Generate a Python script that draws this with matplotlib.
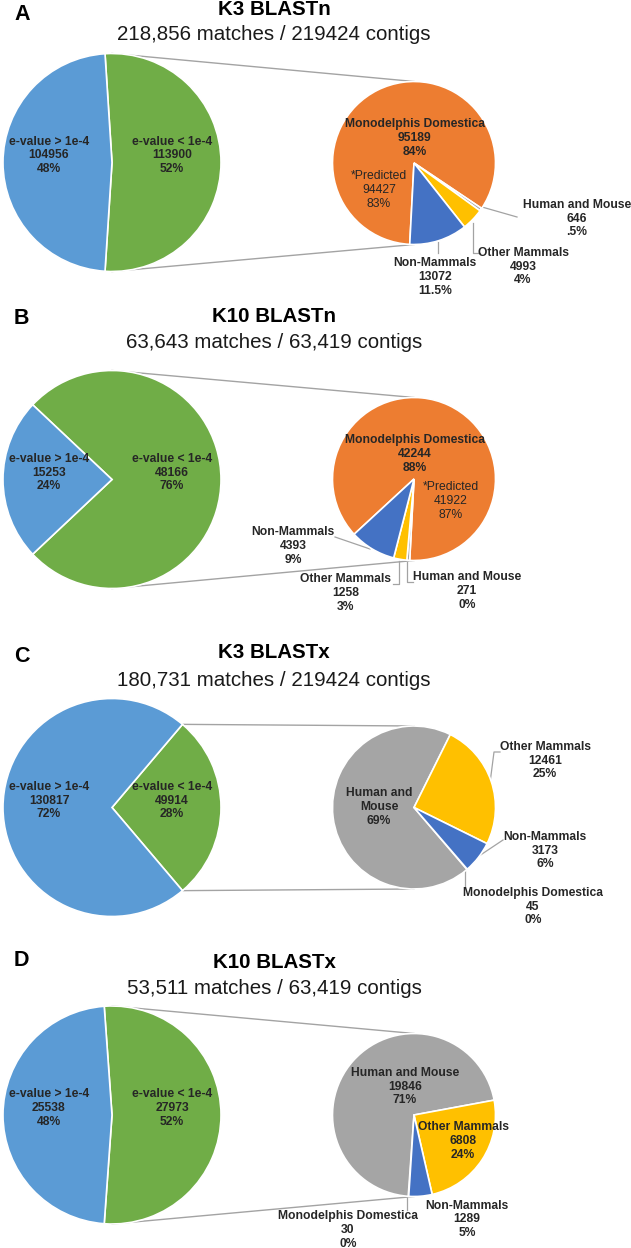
import numpy as np
import matplotlib
matplotlib.use('Agg')
import matplotlib.pyplot as plt

plt.rcParams['font.family'] = ['Liberation Sans', 'DejaVu Sans']

W, H = 631, 1248

panel_letters = ['A', 'B', 'C', 'D']
titles = ['K3 BLASTn', 'K10 BLASTn', 'K3 BLASTx', 'K10 BLASTx']
subtitles = ['218,856 matches / 219424 contigs',
             '63,643 matches / 63,419 contigs',
             '180,731 matches / 219424 contigs',
             '53,511 matches / 63,419 contigs']

# primary pies
above_counts = [104956, 15253, 130817, 25538]   # e-value > 1e-4
below_counts = [113900, 48166, 49914, 27973]    # e-value < 1e-4
above_pct = ['48%', '24%', '72%', '48%']
below_pct = ['52%', '76%', '28%', '52%']

# secondary pies (break-down of e-value < 1e-4)
groups = ['Monodelphis Domestica', 'Human and Mouse', 'Other Mammals', 'Non-Mammals']
mono_counts = [95189, 42244, 45, 30]
human_counts = [646, 271, 34235, 19846]
other_counts = [4993, 1258, 12461, 6808]
nonmam_counts = [13072, 4393, 3173, 1289]
mono_pct = ['84%', '88%', '0%', '0%']
human_pct = ['.5%', '0%', '69%', '71%']
other_pct = ['4%', '3%', '25%', '24%']
nonmam_pct = ['11.5%', '9%', '6%', '5%']
predicted_counts = [94427, 41922]
predicted_pct = ['83%', '87%']

big_colors = ['#70AD47', '#5B9BD5']
sub_colors = ['#ED7D31', '#A5A5A5', '#FFC000', '#4472C4']
txt = '#262626'
line_c = '#A3A3A3'

# layout (pixel coords, y from top)
letter_y = [15, 319, 656, 961]
title_y = [9.5, 316, 653, 962]
sub_y = [35, 343, 681, 989]
big_cy = [162.5, 479.5, 807.5, 1115]
sub_cy = [163, 479, 807.5, 1115]
sub_start = [267, 222.7, -49.2, -93.7]
big_cx, big_r = 112, 109
sub_cx, sub_r = 414, 81.5


def Y(y):
    return H - y


fig = plt.figure(figsize=(W / 100, H / 100), dpi=100)
ax = fig.add_axes([0, 0, 1, 1])

lab = dict(fontsize=8.7, fontweight='bold', color=txt, ha='center', va='center', linespacing=1.2)

for i in range(4):
    ax.text(14, Y(letter_y[i]), panel_letters[i], fontsize=15.5, fontweight='bold', va='center', ha='left')
    ax.text(274, Y(title_y[i]), titles[i], fontsize=14.8, fontweight='bold', ha='center', va='center')
    ax.text(274, Y(sub_y[i]), subtitles[i], fontsize=14.8, ha='center', va='center', color='#1a1a1a')

    # primary pie, "< 1e-4" slice centred on the right
    frac = below_counts[i] / (below_counts[i] + above_counts[i])
    ax.pie([below_counts[i], above_counts[i]], colors=big_colors, startangle=-frac * 180,
           center=(big_cx, Y(big_cy[i])), radius=big_r,
           wedgeprops=dict(edgecolor='white', linewidth=1.2))

    vals = [mono_counts[i], human_counts[i], other_counts[i], nonmam_counts[i]]
    ax.pie(vals, colors=sub_colors, startangle=sub_start[i], counterclock=False,
           center=(sub_cx, Y(sub_cy[i])), radius=sub_r,
           wedgeprops=dict(edgecolor='white', linewidth=1.2))

    # connector lines
    ang = np.radians(min(frac * 180, 90))
    for s in (1, -1):
        x0 = big_cx + big_r * np.cos(ang)
        y0 = Y(big_cy[i]) + s * big_r * np.sin(ang)
        ax.plot([x0, sub_cx], [y0, Y(sub_cy[i]) + s * sub_r], color=line_c, lw=1, zorder=0)

    ax.text(49, Y(big_cy[i]) + 7, 'e-value > 1e-4\n%d\n%s' % (above_counts[i], above_pct[i]), **lab)
    ax.text(big_cx + 60, Y(big_cy[i]) + 7, 'e-value < 1e-4\n%d\n%s' % (below_counts[i], below_pct[i]), **lab)


def sub_label(x, y, s, **kw):
    d = dict(lab)
    d.update(kw)
    ax.text(x, Y(y), s, **d)


def leader(xs, ys):
    ax.plot(xs, [Y(v) for v in ys], color=line_c, lw=0.9, zorder=0.5)


# A
sub_label(415, 138, '%s\n%d\n%s' % (groups[0], mono_counts[0], mono_pct[0]))
sub_label(379, 190, '*Predicted\n%d\n%s' % (predicted_counts[0], predicted_pct[0]), fontweight='normal')
sub_label(577, 218.5, '%s\n%d\n%s' % (groups[1], human_counts[0], human_pct[0]))
sub_label(523, 266.5, '%s\n%d\n%s' % (groups[2], other_counts[0], other_pct[0]))
sub_label(435, 277, '%s\n%d\n%s' % (groups[3], nonmam_counts[0], nonmam_pct[0]))
leader([482, 517], [207, 217])
leader([473, 473, 480], [223, 253, 253])
leader([438, 438], [242, 253])

# B
sub_label(415, 454, '%s\n%d\n%s' % (groups[0], mono_counts[1], mono_pct[1]))
sub_label(451, 501, '*Predicted\n%d\n%s' % (predicted_counts[1], predicted_pct[1]), fontweight='normal')
sub_label(293, 546, '%s\n%d\n%s' % (groups[3], nonmam_counts[1], nonmam_pct[1]))
sub_label(346, 593, '%s\n%d\n%s' % (groups[2], other_counts[1], other_pct[1]))
sub_label(467, 591, '%s\n%d\n%s' % (groups[1], human_counts[1], human_pct[1]))
leader([335, 370], [537, 549])
leader([393, 399, 399], [584, 584, 561])
leader([407, 407, 413], [562, 582, 582])

# C
sub_label(379, 807, 'Human and\nMouse\n%s' % human_pct[2])
sub_label(545, 760.5, '%s\n%d\n%s' % (groups[2], other_counts[2], other_pct[2]))
sub_label(545, 850.5, '%s\n%d\n%s' % (groups[3], nonmam_counts[2], nonmam_pct[2]))
sub_label(533, 906.5, '%s\n%d\n%s' % (groups[0], mono_counts[2], mono_pct[2]))
leader([490, 494, 500], [783, 752, 752])
leader([476, 503], [858, 840])
leader([465, 465], [868, 887])

# D
sub_label(405, 1086.5, '%s\n%d\n%s' % (groups[1], human_counts[3], human_pct[3]))
sub_label(463, 1141, '%s\n%d\n%s' % (groups[2], other_counts[3], other_pct[3]))
sub_label(467, 1219.5, '%s\n%d\n%s' % (groups[3], nonmam_counts[3], nonmam_pct[3]))
sub_label(348, 1230, '%s\n%d\n%s' % (groups[0], mono_counts[3], mono_pct[3]))
leader([407, 407], [1197, 1210])

ax.set_xlim(0, W)
ax.set_ylim(0, H)
ax.set_aspect('equal')
ax.axis('off')
fig.savefig('out.png', dpi=100)
